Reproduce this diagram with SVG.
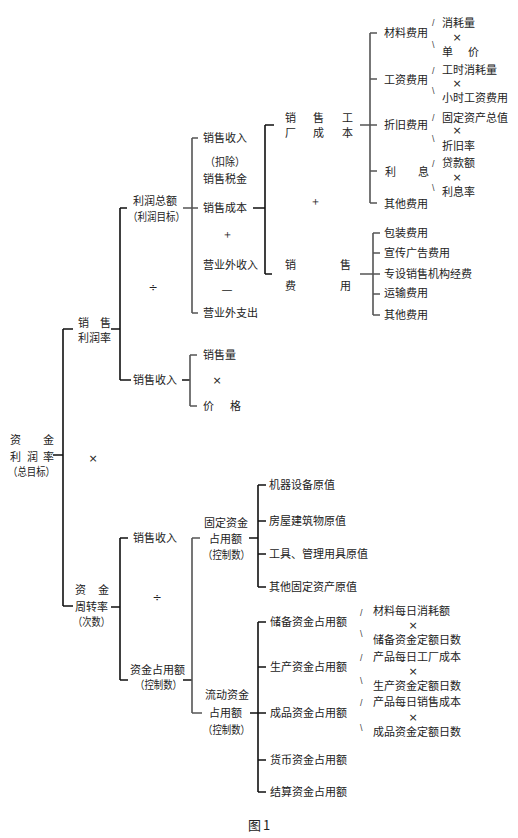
<svg xmlns="http://www.w3.org/2000/svg" width="518" height="838" viewBox="0 0 518 838">
<style>
text{font-family:"Noto Sans CJK SC","Noto Sans CJK JP",sans-serif;font-size:11px;fill:#222}
.op{font-family:"DejaVu Sans","Liberation Sans",sans-serif;font-size:11px;text-anchor:middle}
.sl{font-family:"Liberation Sans",sans-serif;font-size:9px;fill:#444}
.k{stroke:#111;stroke-width:1.6;fill:none}
.g{stroke:#555;stroke-width:1.6;fill:none}
.cap{font-size:13px}
</style>
<rect width="518" height="838" fill="#fff"/>
<g id="connectors">
<path class="k" d="M53 455H63M63 329V606M63 329H73M63 606H73"/>
<path class="k" d="M111 329H120M120 208V380M120 208H127M120 380H131M182 380H190"/>
<path class="k" d="M111 607H120M120 538V680M120 538H128M120 680H128M183 680H192"/>
<path class="g" d="M183 208H198M192 138V313M192 138H198M192 313H198"/>
<path class="g" d="M190 355V406M190 355H197M190 406H197"/>
<path class="k" d="M253 208H265M265 125V274M265 125H274M265 274H272"/>
<path class="g" d="M360 125H370M370 33V203M370 33H377M370 79H377M370 125H377M370 171H377M370 203H377"/>
<path class="g" d="M360 274H380M373 233V315M373 233H380M373 253H380M373 294H380M373 315H380"/>
<path class="g" d="M192 538V713M192 538H200M192 713H202"/>
<path class="k" d="M249 538H258M258 485V587M258 485H266M258 521H266M258 554H266M258 587H266"/>
<path class="k" d="M250 713H258M258 622V792M258 622H266M258 667H266M258 713H266M258 760H266M258 792H266"/>
</g>
<g id="n-zjlrl"><text x="10 43" y="444">资金</text><text x="10 27 43" y="461">利润率</text><text x="8" y="476" textLength="47" lengthAdjust="spacingAndGlyphs">（总目标）</text></g>
<text class="op" x="93" y="462">×</text>
<g id="n-xslrl"><text x="78 100" y="327">销售</text><text x="78" y="342">利润率</text></g>
<g id="n-zjzzl"><text x="75 98" y="594">资金</text><text x="75" y="611">周转率</text><text x="73" y="626" textLength="37" lengthAdjust="spacingAndGlyphs">（次数）</text></g>
<g id="n-lrze"><text x="133" y="205">利润总额</text><text x="128" y="221" textLength="57" lengthAdjust="spacingAndGlyphs">（利润目标）</text></g>
<text class="op" x="153" y="291">÷</text>
<g id="n-xssr1"><text x="133" y="384">销售收入</text></g>
<g id="n-xssr2"><text x="133" y="542">销售收入</text></g>
<text class="op" x="157" y="601">÷</text>
<g id="n-zjzye"><text x="130" y="674">资金占用额</text><text x="135" y="689" textLength="47" lengthAdjust="spacingAndGlyphs">（控制数）</text></g>
<g id="n-d1"><text x="203" y="142">销售收入</text><text x="205" y="166" textLength="40" lengthAdjust="spacingAndGlyphs">（扣除）</text><text x="203" y="183">销售税金</text></g>
<g id="n-xscb"><text x="203" y="212">销售成本</text></g>
<text class="op" x="227" y="238">＋</text>
<g id="n-yywsr"><text x="203" y="269">营业外收入</text></g>
<text class="op" x="227" y="293">—</text>
<g id="n-yywzc"><text x="203" y="317">营业外支出</text></g>
<g id="n-xsl"><text x="203" y="359">销售量</text></g>
<text class="op" x="217" y="384">×</text>
<g id="n-jg"><text x="203 230" y="410">价格</text></g>
<g id="n-gdzj"><text x="204" y="527">固定资金</text><text x="209" y="543">占用额</text><text x="203" y="559" textLength="47" lengthAdjust="spacingAndGlyphs">（控制数）</text></g>
<g id="n-ldzj"><text x="205" y="699">流动资金</text><text x="209" y="717">占用额</text><text x="203" y="734" textLength="47" lengthAdjust="spacingAndGlyphs">（控制数）</text></g>
<g id="n-xsgccb"><text x="285 313 342" y="122">销售工</text><text x="285 313 342" y="137">厂成本</text></g>
<text class="op" x="315" y="205">＋</text>
<g id="n-xsfy"><text x="285 340" y="269">销售</text><text x="285 340" y="290">费用</text></g>
<g id="n-clfy"><text x="384" y="37">材料费用</text><text class="sl" x="432" y="26">/</text><text class="sl" x="432" y="48">\</text><text x="442" y="27">消耗量</text><text class="op" x="457" y="41">×</text><text x="442 468" y="56">单价</text></g>
<g id="n-gzfy"><text x="384" y="84">工资费用</text><text class="sl" x="432" y="74">/</text><text class="sl" x="432" y="94">\</text><text x="442" y="74">工时消耗量</text><text class="op" x="457" y="87">×</text><text x="442" y="102">小时工资费用</text></g>
<g id="n-zjfy"><text x="384" y="129">折旧费用</text><text class="sl" x="432" y="121">/</text><text class="sl" x="432" y="142">\</text><text x="442" y="122">固定资产总值</text><text class="op" x="457" y="134">×</text><text x="442" y="150">折旧率</text></g>
<g id="n-lx"><text x="385 418" y="176">利息</text><text class="sl" x="432" y="167">/</text><text class="sl" x="432" y="191">\</text><text x="442" y="167">贷款额</text><text class="op" x="457" y="181">×</text><text x="442" y="196">利息率</text></g>
<g id="n-qtfy1"><text x="384" y="208">其他费用</text></g>
<g id="n-bzfy"><text x="384" y="237">包装费用</text></g>
<g id="n-xcgg"><text x="384" y="257">宣传广告费用</text></g>
<g id="n-zsxs"><text x="384" y="278">专设销售机构经费</text></g>
<g id="n-ysfy"><text x="384" y="297">运输费用</text></g>
<g id="n-qtfy2"><text x="384" y="319">其他费用</text></g>
<g id="n-jqsb"><text x="269" y="489">机器设备原值</text></g>
<g id="n-fwjz"><text x="269" y="525">房屋建筑物原值</text></g>
<g id="n-gjgl"><text x="269" y="558">工具、管理用具原值</text></g>
<g id="n-qtgd"><text x="269" y="591">其他固定资产原值</text></g>
<g id="n-cbzj"><text x="270" y="626">储备资金占用额</text><text class="sl" x="360" y="616">/</text><text class="sl" x="360" y="637">\</text><text x="373" y="615">材料每日消耗额</text><text class="op" x="413" y="629">×</text><text x="373" y="644">储备资金定额日数</text></g>
<g id="n-sczj"><text x="270" y="671">生产资金占用额</text><text class="sl" x="360" y="661">/</text><text class="sl" x="360" y="684">\</text><text x="373" y="661">产品每日工厂成本</text><text class="op" x="413" y="675">×</text><text x="373" y="690">生产资金定额日数</text></g>
<g id="n-cpzj"><text x="270" y="717">成品资金占用额</text><text class="sl" x="360" y="706">/</text><text class="sl" x="360" y="731">\</text><text x="373" y="706">产品每日销售成本</text><text class="op" x="413" y="721">×</text><text x="373" y="736">成品资金定额日数</text></g>
<g id="n-hbzj"><text x="270" y="764">货币资金占用额</text></g>
<g id="n-jszj"><text x="270" y="796">结算资金占用额</text></g>
<text class="cap" x="248 263" y="830">图1</text>
</svg>
